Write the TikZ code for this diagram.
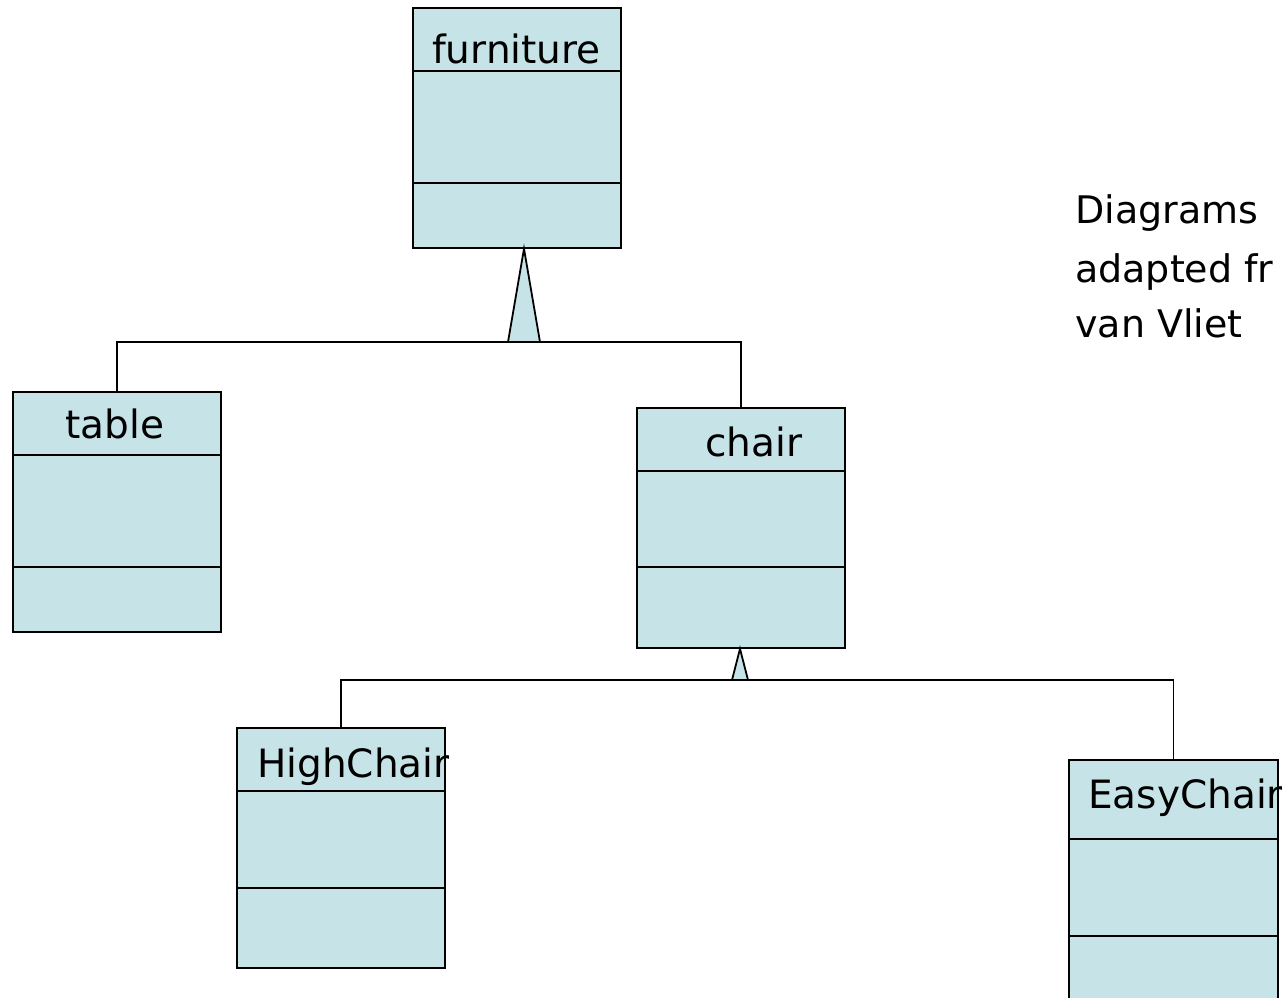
\documentclass[tikz,border=0pt]{standalone}
\usepackage{fontspec}
\setmainfont{DejaVu Sans}
\definecolor{boxfill}{RGB}{198,228,232}
\begin{document}
\begin{tikzpicture}[x=1pt,y=-1pt,
  classbox/.style={draw=black, fill=boxfill, line width=1.8pt, rectangle,
    minimum width=208pt, minimum height=240pt, inner sep=0pt, anchor=north west},
  classname/.style={anchor=base west, inner sep=0pt, font=\fontsize{39}{46}\selectfont},
  notetext/.style={anchor=base west, inner sep=0pt, font=\fontsize{38}{46}\selectfont},
  wire/.style={draw=black, line width=1.8pt},
  head/.style={draw=black, fill=boxfill, line width=1.8pt, line join=miter}]
\useasboundingbox (0,0) rectangle (1284,997);
\fill[white] (0,0) rectangle (1284,997);
\clip (0,0) rectangle (1284,997);

% class boxes
\node[classbox] (fn) at (412,7) {};
\node[classbox] (tb) at (12,391) {};
\node[classbox] (ch) at (636,407) {};
\node[classbox] (hc) at (236,727) {};
\node[classbox, minimum width=209pt] (ec) at (1068,759) {};

% compartment dividers
\foreach \b/\da/\db in {fn/64/176, tb/64/176, ch/64/160, hc/64/161, ec/80/177} {
  \draw[wire] ([yshift=-\da pt]\b.north west) -- ([yshift=-\da pt]\b.north east);
  \draw[wire] ([yshift=-\db pt]\b.north west) -- ([yshift=-\db pt]\b.north east);
}

% class names
\node[classname] (fnname) at (432,63) {furniture};
\node[classname] (tbname) at (65,438) {table};
\node[classname] (chname) at (705,456) {chair};
\node[classname] (hcname) at (257,777) {HighChair};
\node[classname] (ecname) at (1088,808) {EasyChair};

% generalisation: table, chair -> furniture
\coordinate (j1) at (524,342);
\draw[wire] (tb.north) |- (j1) -| (ch.north);
\filldraw[head] (j1 |- fn.south) -- ([xshift=-16pt]j1) -- ([xshift=16pt]j1) -- cycle;

% generalisation: HighChair, EasyChair -> chair
\coordinate (j2) at (740,680);
\draw[wire] (hc.north) |- (j2) -| (ec.north);
\filldraw[head] (j2 |- ch.south) -- ([xshift=-8pt]j2) -- ([xshift=8pt]j2) -- cycle;

% note
\node[notetext] (n1) at (1075,223) {Diagrams};
\node[notetext] (n2) at (1075,282) {adapted fr};
\node[notetext] (n3) at (1075,337) {van Vliet};
\end{tikzpicture}
\end{document}
